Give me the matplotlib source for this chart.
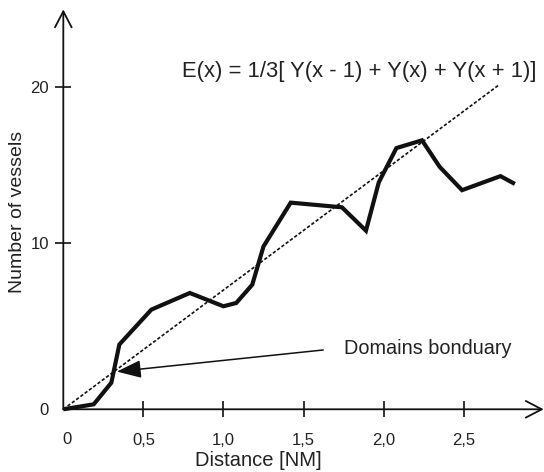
import numpy as np
import matplotlib
matplotlib.use("Agg")
import matplotlib.pyplot as plt

plt.rcParams['font.family'] = ['Liberation Sans', 'DejaVu Sans']

# Data
distance = [0, 0.19, 0.30, 0.35, 0.55, 0.79, 1.00, 1.08, 1.18, 1.25, 1.42,
            1.74, 1.89, 1.97, 2.08, 2.24, 2.35, 2.49, 2.73, 2.82]
vessels = [0, 0.3, 1.6, 3.9, 6.0, 7.0, 6.2, 6.4, 7.5, 9.8, 12.6,
           12.3, 10.8, 13.9, 16.1, 16.6, 14.9, 13.4, 14.3, 13.8]
trend_x = [0, 2.72]
trend_y = [0, 20.15]
x_ticks = [0.5, 1.0, 1.5, 2.0, 2.5]
x_ticklabels = ['0,5', '1,0', '1,5', '2,0', '2,5']
y_ticks = [0, 10, 20]
y_ticklabels = ['0', '10', '20']
equation = 'E(x) = 1/3[ Y(x - 1) + Y(x) + Y(x + 1)]'
annot_text = 'Domains bonduary'

# piecewise-linear y scale (the original axis spacing is slightly uneven)
def fwd(y):
    y = np.asarray(y, dtype=float)
    return np.where(y <= 10, 16.6 * y, 166 + 15.57 * (y - 10))

def inv(v):
    v = np.asarray(v, dtype=float)
    return np.where(v <= 166, v / 16.6, 10 + (v - 166) / 15.57)

fig = plt.figure(figsize=(5.44, 4.72), dpi=100)
ax = fig.add_axes([47.3 / 544, (472 - 425.9) / 472, (543.7 - 47.3) / 544, (425.9 - 8) / 472])
ax.set_yscale('function', functions=(fwd, inv))
ax.set_xlim(-0.1, 3.0)
ax.set_ylim(-1, 25.09)

ax.spines['left'].set_position(('data', 0))
ax.spines['bottom'].set_position(('data', 0))
for s in ax.spines.values():
    s.set_color('none')

# axes as arrows
arrow_kw = dict(arrowstyle='->,head_length=1.15,head_width=0.6', color='#111111',
                lw=1.3, shrinkA=0, shrinkB=0, mutation_scale=10)
ax.annotate('', xy=(0, 25.0), xytext=(0, 0), xycoords='data',
            arrowprops=arrow_kw, annotation_clip=False)
ax.annotate('', xy=(3.0, 0), xytext=(0, 0), xycoords='data',
            arrowprops=arrow_kw, annotation_clip=False)

# trend line
ax.plot(trend_x, trend_y, color='#111111', lw=1.2, linestyle=(0, (2, 1.2)))
# data line
ax.plot(distance, vessels, color='#111111', lw=3.0, solid_joinstyle='miter',
        solid_capstyle='butt')

# ticks
ax.set_xticks(x_ticks)
ax.set_xticklabels(x_ticklabels)
ax.set_yticks(y_ticks)
ax.set_yticklabels(y_ticklabels)
ax.tick_params(axis='x', direction='inout', length=11.5, width=1.2, pad=11,
               labelsize=12, colors='#111111', labelcolor='#222222')
ax.tick_params(axis='y', direction='inout', length=12, width=1.2, pad=4.3,
               labelsize=12, colors='#111111', labelcolor='#222222')
t0 = ax.yaxis.get_major_ticks()[0]
t0.tick1line.set_visible(False)
t0.tick2line.set_visible(False)

# x "0" label
ax.annotate('0', xy=(0, 0), xytext=(2.7, -22.1), textcoords='offset points',
            ha='center', va='center', fontsize=12, color='#222222')

# axis labels
fig.text(258 / 544, 1 - 460 / 472, 'Distance [NM]', ha='center', va='center',
         fontsize=14.5, color='#222222')
fig.text(18 / 544, 1 - 212 / 472, 'Number of vessels', ha='center', va='center',
         rotation=90, fontsize=14, color='#222222')

# equation
ax.text(0.74, 21.0, equation, ha='left', va='center', fontsize=15.8, color='#222222')

# annotation
ax.annotate('', xy=(0.334, 2.27), xytext=(1.623, 3.57),
            arrowprops=dict(arrowstyle='-|>,head_length=1.5,head_width=0.55',
                            color='#111111', lw=1.1, shrinkA=0, shrinkB=0,
                            mutation_scale=10))
ax.text(1.752, 3.63, annot_text, ha='left', va='center', fontsize=14.3,
        color='#222222')

fig.savefig('out.png', dpi=100)
